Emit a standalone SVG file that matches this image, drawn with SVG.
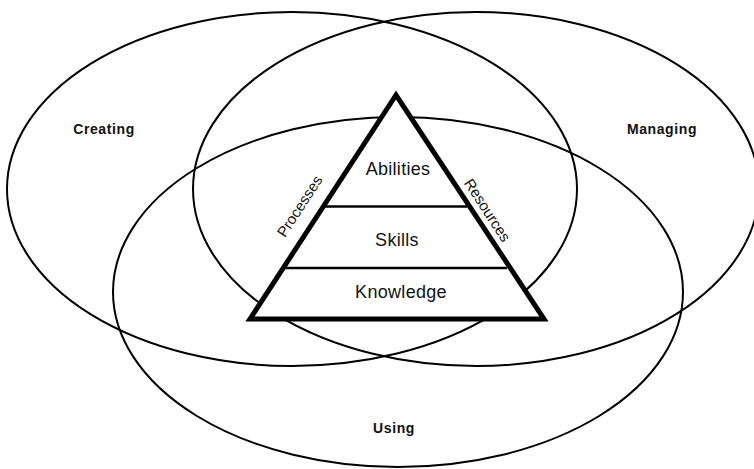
<svg xmlns="http://www.w3.org/2000/svg" width="754" height="469" viewBox="0 0 754 469">
<style>
.ring{fill:none;stroke:#000;stroke-width:2}
.lbl{font-family:"Liberation Sans",Arial,sans-serif;font-weight:bold;font-size:14px;letter-spacing:0.6px;fill:#111;text-anchor:middle}
.tier{font-family:"Liberation Sans",Arial,sans-serif;font-size:18px;fill:#111;text-anchor:middle;letter-spacing:0.3px}
.side{font-family:"Liberation Sans",Arial,sans-serif;font-size:15px;fill:#111;text-anchor:middle}
</style>
<rect width="754" height="469" fill="#fff"/>
<g id="creating">
<ellipse class="ring" cx="292" cy="189" rx="285" ry="177"/>
<text class="lbl" x="104" y="134">Creating</text>
</g>
<g id="managing">
<ellipse class="ring" cx="476" cy="189" rx="283" ry="177"/>
<text class="lbl" x="662" y="134">Managing</text>
</g>
<g id="using">
<ellipse class="ring" cx="398" cy="292" rx="285" ry="175"/>
<text class="lbl" x="394" y="433">Using</text>
</g>
<g id="pyramid">
<polygon points="396,95 250,319 544,319" fill="#fff" stroke="#000" stroke-width="5" stroke-linejoin="miter"/>
<line x1="325" y1="206.5" x2="467" y2="206.5" stroke="#000" stroke-width="2.5"/>
<line x1="286" y1="268" x2="507" y2="268" stroke="#000" stroke-width="2.5"/>
<text class="tier" x="398" y="175">Abilities</text>
<text class="tier" x="397" y="246">Skills</text>
<text class="tier" x="401" y="298">Knowledge</text>
</g>
<g id="processes">
<text class="side" transform="translate(304,209) rotate(-57)">Processes</text>
</g>
<g id="resources">
<text class="side" transform="translate(483,213) rotate(57)">Resources</text>
</g>
<g id="connectors"></g>
</svg>
